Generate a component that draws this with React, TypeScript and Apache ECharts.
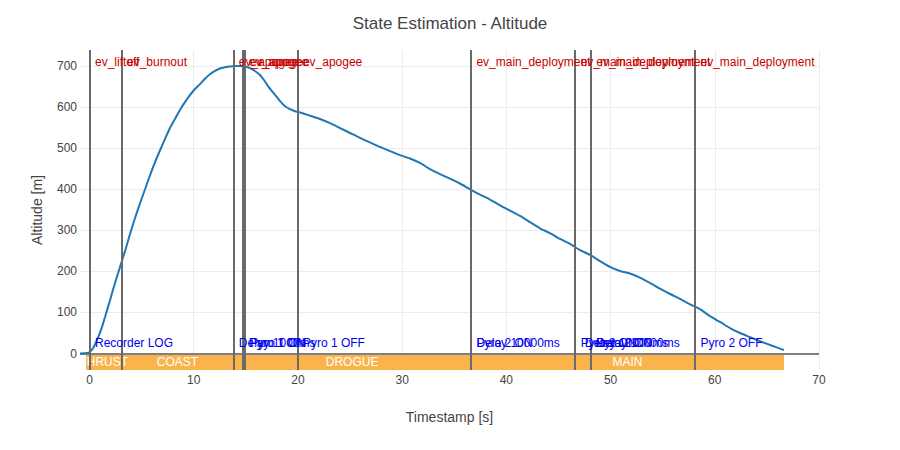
import React, { useEffect, useRef } from "react";
import * as echarts from "echarts";

// Estimated altitude over flight time
const times = [
  -0.91, -0.43, -0.05, 0.34, 0.72, 1.1, 1.49, 1.97, 2.45, 3.02, 3.5, 3.89, 4.37, 4.85, 5.33,
  5.81, 6.29, 6.77, 7.24, 7.72, 8.2, 8.68, 9.16, 9.64, 10.12, 10.6, 11.08, 11.56, 12.04, 12.52,
  13.0, 13.48, 13.96, 14.44, 14.92, 15.4, 15.88, 16.36, 16.74, 17.13, 17.51, 17.99, 18.37,
  18.76, 19.24, 19.72, 20.2, 21.16, 22.12, 23.08, 24.04, 25.0, 25.96, 26.92, 27.88, 28.83,
  29.79, 30.75, 31.71, 32.67, 33.63, 34.59, 35.55, 36.51, 37.47, 38.43, 39.39, 40.35, 41.31,
  42.27, 43.23, 44.19, 45.15, 46.11, 47.07, 48.03, 48.99, 49.94, 50.9, 51.86, 52.82, 53.78,
  54.74, 55.7, 56.66, 57.62, 58.58, 59.54, 60.5, 61.46, 62.42, 63.38, 64.34, 65.3, 66.64,
];
const altitude = [
  0, 0.5, 2.4, 13, 33, 57, 89, 130, 172, 218, 257, 291, 330, 366, 400, 434, 466, 495, 522,
  549, 571, 593, 612, 629, 644, 656, 669, 680, 688, 694, 697, 699, 700, 700, 699, 695, 688,
  678, 666, 651, 639, 624, 612, 602, 595, 590, 587, 579, 571, 561, 549, 537, 525, 514, 503,
  493, 483, 475, 464, 449, 437, 426, 414, 400, 387, 375, 361, 348, 335, 320, 305, 293, 279,
  267, 252, 240, 225, 211, 201, 195, 185, 172, 158, 145, 133, 120, 108, 91, 77, 62, 50, 40,
  30, 21, 8.5,
];

// Flight computer events (red, top)
const eventNames = [
  "ev_liftoff", "ev_burnout", "ev_apogee", "ev_apogee", "ev_apogee", "ev_apogee",
  "ev_main_deployment", "ev_main_deployment", "ev_main_deployment", "ev_main_deployment",
];
const eventTimes = [0, 3.07, 13.8, 14.75, 14.9, 19.95, 36.6, 46.6, 48.1, 58.1];

// Issued commands (blue, bottom)
const commandNames = [
  "Recorder LOG", "Delay 1000ms", "Pyro 1 ON", "Pyro 1 ON", "Pyro 1 OFF",
  "Delay 10000ms", "Pyro 2 ON", "Pyro 2 ON", "Delay 10000ms", "Pyro 2 ON", "Delay 10000ms",
  "Pyro 2 OFF",
];
const commandTimes = [0, 13.8, 14.75, 14.9, 19.95, 36.6, 36.6, 46.6, 47.0, 48.1, 48.1, 58.1];

// Flight phases
const phaseNames = ["THRUST", "COAST", "DROGUE", "MAIN"];
const phaseStarts = [-0.34, 3.07, 13.8, 36.6];
const phaseEnds = [3.07, 13.8, 36.6, 66.64];

const xTicks = [0, 10, 20, 30, 40, 50, 60, 70];
const yTicks = [0, 100, 200, 300, 400, 500, 600, 700];

const X_MIN = -0.91;
const X_MAX = 70;
const Y_MIN = -40;
const Y_MAX = 739;
const TOP_LABEL_Y = 710;
const BOTTOM_LABEL_Y = 25.5;

const FONT = '"Liberation Sans", Arial, sans-serif';
const TEXT = "#444";

export default function App() {
  const ref = useRef<HTMLDivElement>(null);

  useEffect(() => {
    if (!ref.current) return;
    const chart = echarts.init(ref.current, undefined, { renderer: "svg" });

    const option: any = {
      animation: false,
      backgroundColor: "#fff",
      title: {
        text: "State Estimation - Altitude",
        left: "center",
        top: 10,
        textStyle: { fontSize: 17, color: TEXT, fontWeight: "normal", fontFamily: FONT },
      },
      grid: { left: 80, right: 81, top: 50, bottom: 80 },
      xAxis: {
        type: "value",
        min: X_MIN,
        max: X_MAX,
        axisLine: { show: false },
        axisTick: { show: false },
        splitLine: { show: false },
        axisLabel: { customValues: xTicks, color: TEXT, fontSize: 12, margin: 4, fontFamily: FONT },
        name: "Timestamp [s]",
        nameLocation: "middle",
        nameGap: 40,
        nameTextStyle: { fontSize: 14, color: TEXT, fontFamily: FONT },
      },
      yAxis: {
        type: "value",
        min: Y_MIN,
        max: Y_MAX,
        axisLine: { show: false },
        axisTick: { show: false },
        splitLine: { show: false },
        axisLabel: { customValues: yTicks, color: TEXT, fontSize: 12, margin: 3, fontFamily: FONT },
        name: "Altitude [m]",
        nameLocation: "middle",
        nameGap: 36,
        nameTextStyle: { fontSize: 14, color: TEXT, fontFamily: FONT },
      },
      series: [
        {
          name: "grid",
          type: "line",
          data: [],
          silent: true,
          z: 0,
          markLine: {
            silent: true,
            z: 0,
            symbol: ["none", "none"],
            label: { show: false },
            lineStyle: { color: "#ececec", width: 1, type: "solid" },
            data: [
              ...xTicks.map((v) => ({ xAxis: v })),
              ...yTicks.filter((v) => v !== 0).map((v) => ({ yAxis: v })),
            ],
          },
        },
        {
          name: "phases",
          type: "custom",
          z: 1,
          silent: true,
          clip: true,
          data: phaseNames.map((_, i) => [phaseStarts[i], phaseEnds[i]]),
          encode: { x: [0, 1] },
          renderItem: (params: any, api: any) => {
            const a = api.coord([api.value(0), 0]);
            const b = api.coord([api.value(1), Y_MIN]);
            return {
              type: "rect",
              shape: { x: a[0], y: a[1], width: b[0] - a[0], height: b[1] - a[1] },
              style: { fill: "#fbb44c" },
              textContent: {
                style: {
                  text: phaseNames[params.dataIndex],
                  fill: "#ffffff",
                  fontSize: 12,
                  fontFamily: FONT,
                },
              },
              textConfig: { position: "inside" },
            };
          },
        },
        {
          name: "zero",
          type: "line",
          data: [],
          silent: true,
          z: 2,
          markLine: {
            silent: true,
            z: 2,
            symbol: ["none", "none"],
            label: { show: false },
            lineStyle: { color: "#808080", width: 2, type: "solid" },
            data: [{ yAxis: 0 }],
          },
        },
        {
          name: "Altitude",
          type: "line",
          z: 3,
          data: times.map((t, i) => [t, altitude[i]]),
          showSymbol: false,
          smooth: 0.2,
          lineStyle: { color: "#1f77b4", width: 2 },
          itemStyle: { color: "#1f77b4" },
        },
        {
          name: "event lines",
          type: "line",
          data: [],
          silent: true,
          z: 4,
          markLine: {
            silent: true,
            z: 4,
            symbol: ["none", "none"],
            label: { show: false },
            lineStyle: { color: "#6a6a6a", width: 2, type: "solid", opacity: 1 },
            data: eventTimes.map((t) => ({ xAxis: t })),
          },
        },
        {
          name: "events",
          type: "scatter",
          z: 5,
          silent: true,
          symbolSize: 1,
          itemStyle: { color: "rgba(0,0,0,0)" },
          data: eventTimes.map((t) => [t, TOP_LABEL_Y]),
          label: {
            show: true,
            position: "right",
            distance: 5,
            opacity: 1,
            color: "#c80000",
            fontSize: 12,
            fontFamily: FONT,
            formatter: (p: any) => eventNames[p.dataIndex],
          },
        },
        {
          name: "commands",
          type: "scatter",
          z: 5,
          silent: true,
          symbolSize: 1,
          itemStyle: { color: "rgba(0,0,0,0)" },
          data: commandTimes.map((t) => [t, BOTTOM_LABEL_Y]),
          label: {
            show: true,
            position: "right",
            distance: 5,
            opacity: 1,
            color: "#0000f0",
            fontSize: 12,
            fontFamily: FONT,
            formatter: (p: any) => commandNames[p.dataIndex],
          },
        },
      ],
    };

    chart.setOption(option);
    return () => chart.dispose();
  }, []);

  return (
    <div
      ref={ref}
      style={{ position: "fixed", left: 0, top: 0, width: 900, height: 450 }}
    />
  );
}
